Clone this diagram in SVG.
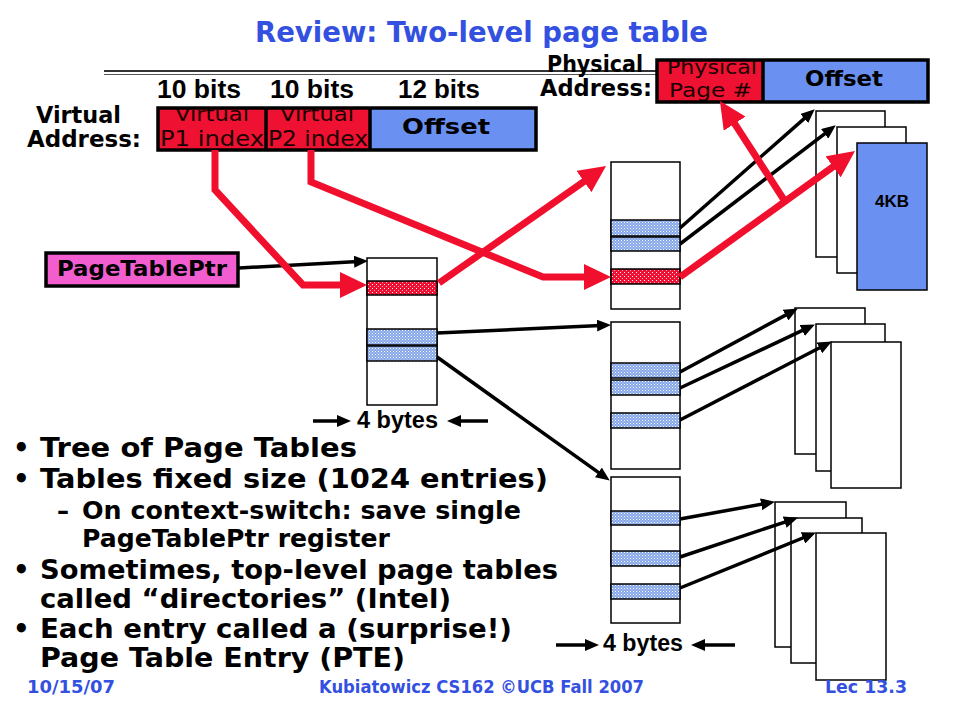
<svg xmlns="http://www.w3.org/2000/svg" width="960" height="720" viewBox="0 0 960 720">
<style>
.comic{font-family:"DejaVu Sans","Noto Sans",sans-serif;font-weight:bold;fill:#000}
.arial{font-family:"Liberation Sans",Arial,sans-serif;font-weight:bold;fill:#000}
.blue{fill:#3450e0}
.inbox{font-family:"DejaVu Sans","Noto Sans",sans-serif;font-weight:normal;fill:#1a0000}
.tbl{fill:#fff;stroke:#000;stroke-width:1.5}
.page{fill:#fff;stroke:#000;stroke-width:1.5}
.ent{stroke:#000;stroke-width:1.5}
.blk{fill:none;stroke:#000;stroke-width:3.5}
.red{fill:none;stroke:#f0102e;stroke-width:7;stroke-linejoin:miter}
.frame{stroke:#000;stroke-width:3.5}
</style>
<defs>
<pattern id="bd" width="3" height="3" patternUnits="userSpaceOnUse"><rect width="3" height="3" fill="#86a6ea"/><rect width="1" height="1" fill="#ffffff"/><rect x="1.5" y="1.5" width="1" height="1" fill="#dfe8fb"/></pattern>
<pattern id="rd" width="4" height="4" patternUnits="userSpaceOnUse"><rect width="4" height="4" fill="#ee1133"/><rect width="1" height="1" fill="#ffffff"/><rect x="2" y="2" width="1" height="1" fill="#ffb0bb"/></pattern>
<marker id="ah" markerUnits="userSpaceOnUse" markerWidth="14" markerHeight="12" refX="9" refY="6" orient="auto"><path d="M0,0 L14,6 L0,12 z" fill="#000"/></marker>
<marker id="rh" markerUnits="userSpaceOnUse" markerWidth="27" markerHeight="26" refX="19" refY="13" orient="auto"><path d="M0,0 L27,13 L0,26 z" fill="#f0102e"/></marker>
<clipPath id="cv1"><rect x="158" y="108" width="108" height="42"/></clipPath>
<clipPath id="cv2"><rect x="266" y="108" width="104" height="42"/></clipPath>
<clipPath id="cp1"><rect x="657" y="60" width="106" height="42"/></clipPath>
</defs>

<g id="title">
<text class="comic blue" x="255" y="42" font-size="29" textLength="453" lengthAdjust="spacingAndGlyphs">Review: Two-level page table</text>
<line x1="104" y1="71" x2="657" y2="71" stroke="#333" stroke-width="2"/>
<line x1="104" y1="74.5" x2="657" y2="74.5" stroke="#555" stroke-width="1"/>
</g>

<g id="virtual-address">
<text class="comic" x="36" y="123" font-size="23" textLength="85" lengthAdjust="spacingAndGlyphs">Virtual</text>
<text class="comic" x="27" y="147" font-size="23" textLength="114" lengthAdjust="spacingAndGlyphs">Address:</text>
<text class="arial" x="157" y="98" font-size="25" textLength="84" lengthAdjust="spacingAndGlyphs">10 bits</text>
<text class="arial" x="270" y="98" font-size="25" textLength="84" lengthAdjust="spacingAndGlyphs">10 bits</text>
<text class="arial" x="398" y="98" font-size="25" textLength="82" lengthAdjust="spacingAndGlyphs">12 bits</text>
<rect x="158" y="108" width="108" height="42" fill="#ee1132"/>
<rect x="266" y="108" width="104" height="42" fill="#ee1132"/>
<rect x="370" y="108" width="166" height="42" fill="#6a90f2"/>
<g clip-path="url(#cv1)"><text class="inbox" x="175" y="121" font-size="19" textLength="74" lengthAdjust="spacingAndGlyphs">Virtual</text></g>
<g clip-path="url(#cv2)"><text class="inbox" x="280" y="121" font-size="19" textLength="74" lengthAdjust="spacingAndGlyphs">Virtual</text></g>
<text class="inbox" x="160" y="146" font-size="21" textLength="104" lengthAdjust="spacingAndGlyphs">P1 index</text>
<text class="inbox" x="268" y="146" font-size="21" textLength="100" lengthAdjust="spacingAndGlyphs">P2 index</text>
<text class="comic" x="402" y="134" font-size="22" textLength="88" lengthAdjust="spacingAndGlyphs">Offset</text>
<rect x="158" y="108" width="378" height="42" fill="none" class="frame"/>
<line x1="266" y1="108" x2="266" y2="150" class="frame" stroke-width="2.5"/>
<line x1="370" y1="108" x2="370" y2="150" class="frame" stroke-width="2.5"/>
</g>

<g id="physical-address">
<text class="comic" x="547" y="72" font-size="23" textLength="96" lengthAdjust="spacingAndGlyphs">Physical</text>
<text class="comic" x="540" y="96" font-size="23" textLength="112" lengthAdjust="spacingAndGlyphs">Address:</text>
<rect x="657" y="60" width="106" height="42" fill="#ee1132"/>
<rect x="763" y="60" width="165" height="42" fill="#6a90f2"/>
<g clip-path="url(#cp1)"><text class="inbox" x="667" y="74" font-size="19" textLength="90" lengthAdjust="spacingAndGlyphs">Physical</text></g>
<text class="inbox" x="669" y="97" font-size="19" textLength="83" lengthAdjust="spacingAndGlyphs">Page #</text>
<text class="comic" x="805" y="86" font-size="22" textLength="78" lengthAdjust="spacingAndGlyphs">Offset</text>
<rect x="657" y="60" width="271" height="42" fill="none" class="frame"/>
<line x1="763" y1="60" x2="763" y2="102" class="frame" stroke-width="2.5"/>
</g>

<g id="pagetableptr">
<rect x="46" y="253" width="192" height="33" fill="#f25ecf" stroke="#000" stroke-width="3.5"/>
<text class="comic" x="57" y="276" font-size="22" textLength="170" lengthAdjust="spacingAndGlyphs">PageTablePtr</text>
</g>

<g id="table-1">
<rect class="tbl" x="367" y="258" width="70" height="147"/>
<rect class="ent" x="367" y="281" width="70" height="14" fill="url(#rd)"/>
<rect class="ent" x="367" y="329" width="70" height="16" fill="url(#bd)"/>
<rect class="ent" x="367" y="346" width="70" height="15" fill="url(#bd)"/>
</g>
<g id="table-2">
<rect class="tbl" x="611" y="162" width="69" height="147"/>
<rect class="ent" x="611" y="220" width="69" height="16" fill="url(#bd)"/>
<rect class="ent" x="611" y="237" width="69" height="14" fill="url(#bd)"/>
<rect class="ent" x="611" y="269" width="69" height="15" fill="url(#rd)"/>
</g>
<g id="table-3">
<rect class="tbl" x="611" y="322" width="69" height="147"/>
<rect class="ent" x="611" y="363" width="69" height="15" fill="url(#bd)"/>
<rect class="ent" x="611" y="380" width="69" height="15" fill="url(#bd)"/>
<rect class="ent" x="611" y="413" width="69" height="15" fill="url(#bd)"/>
</g>
<g id="table-4">
<rect class="tbl" x="611" y="477" width="69" height="146"/>
<rect class="ent" x="611" y="511" width="69" height="14" fill="url(#bd)"/>
<rect class="ent" x="611" y="551" width="69" height="15" fill="url(#bd)"/>
<rect class="ent" x="611" y="584" width="69" height="15" fill="url(#bd)"/>
</g>

<g id="pages-1">
<rect class="page" x="816" y="111" width="69" height="146"/>
<rect class="page" x="837" y="127" width="69" height="146"/>
<rect class="page" x="857" y="143" width="70" height="147" style="fill:#6a90f2"/>
<text class="arial" x="892" y="207" font-size="17" text-anchor="middle">4KB</text>
</g>
<g id="pages-2">
<rect class="page" x="795" y="308" width="70" height="146"/>
<rect class="page" x="816" y="324" width="69" height="147"/>
<rect class="page" x="831" y="342" width="70" height="146"/>
</g>
<g id="pages-3">
<rect class="page" x="775" y="502" width="71" height="145"/>
<rect class="page" x="791" y="518" width="71" height="145"/>
<rect class="page" x="816" y="533" width="70" height="147"/>
</g>

<g id="size-labels">
<text class="arial" x="357" y="428" font-size="23" textLength="81" lengthAdjust="spacingAndGlyphs">4 bytes</text>
<text class="arial" x="603" y="651" font-size="23" textLength="80" lengthAdjust="spacingAndGlyphs">4 bytes</text>
</g>

<g id="connectors">
<path class="blk" d="M239,268 L363,261.2" marker-end="url(#ah)"/>
<path class="blk" d="M437,333 L606,325.2" marker-end="url(#ah)"/>
<path class="blk" d="M437,357 L605.7,477.7" marker-end="url(#ah)"/>
<path class="blk" d="M680,228 L811,112.6" marker-end="url(#ah)"/>
<path class="blk" d="M680,244 L831.8,128.4" marker-end="url(#ah)"/>
<path class="blk" d="M680,372 L793.5,310.9" marker-end="url(#ah)"/>
<path class="blk" d="M680,388 L810.4,326.7" marker-end="url(#ah)"/>
<path class="blk" d="M680,420 L827.4,343.8" marker-end="url(#ah)"/>
<path class="blk" d="M680,519 L770,502.7" marker-end="url(#ah)"/>
<path class="blk" d="M680,557 L793.2,519.3" marker-end="url(#ah)"/>
<path class="blk" d="M680,588 L811.3,534.5" marker-end="url(#ah)"/>
<path class="blk" d="M313,421 L346,421" marker-end="url(#ah)"/>
<path class="blk" d="M488,421 L452,421" marker-end="url(#ah)"/>
<path class="blk" d="M556,645 L594,645" marker-end="url(#ah)"/>
<path class="blk" d="M735,645 L696,645" marker-end="url(#ah)"/>
<path class="red" d="M215,150 L215,190 L303,285 L359,285" marker-end="url(#rh)"/>
<path class="red" d="M311,150 L311,182 L543,277 L603,277" marker-end="url(#rh)"/>
<path class="red" d="M439,283 L599.5,170.6" marker-end="url(#rh)"/>
<path class="red" d="M680,277 L848.5,155.7" marker-end="url(#rh)"/>
<path class="red" d="M786,203 L724.3,107.7" marker-end="url(#rh)"/>
</g>

<g id="bullets">
<text class="comic" x="13" y="457" font-size="26">•</text>
<text class="comic" x="40" y="457" font-size="27" textLength="317" lengthAdjust="spacingAndGlyphs">Tree of Page Tables</text>
<text class="comic" x="13" y="488" font-size="26">•</text>
<text class="comic" x="40" y="488" font-size="27" textLength="508" lengthAdjust="spacingAndGlyphs">Tables fixed size (1024 entries)</text>
<text class="comic" x="57" y="519" font-size="24">–</text>
<text class="comic" x="82" y="519" font-size="24" textLength="439" lengthAdjust="spacingAndGlyphs">On context-switch: save single</text>
<text class="comic" x="82" y="547" font-size="24" textLength="308" lengthAdjust="spacingAndGlyphs">PageTablePtr register</text>
<text class="comic" x="13" y="579" font-size="26">•</text>
<text class="comic" x="40" y="579" font-size="27" textLength="518" lengthAdjust="spacingAndGlyphs">Sometimes, top-level page tables</text>
<text class="comic" x="40" y="608" font-size="27" textLength="411" lengthAdjust="spacingAndGlyphs">called “directories” (Intel)</text>
<text class="comic" x="13" y="638" font-size="26">•</text>
<text class="comic" x="40" y="638" font-size="27" textLength="472" lengthAdjust="spacingAndGlyphs">Each entry called a (surprise!)</text>
<text class="comic" x="40" y="667" font-size="27" textLength="365" lengthAdjust="spacingAndGlyphs">Page Table Entry (PTE)</text>
</g>

<g id="footer">
<text class="comic blue" x="27" y="693" font-size="18" textLength="88" lengthAdjust="spacingAndGlyphs">10/15/07</text>
<text class="comic blue" x="319" y="693" font-size="18" textLength="325" lengthAdjust="spacingAndGlyphs">Kubiatowicz CS162 ©UCB Fall 2007</text>
<text class="comic blue" x="825" y="693" font-size="18" textLength="82" lengthAdjust="spacingAndGlyphs">Lec 13.3</text>
</g>
</svg>
